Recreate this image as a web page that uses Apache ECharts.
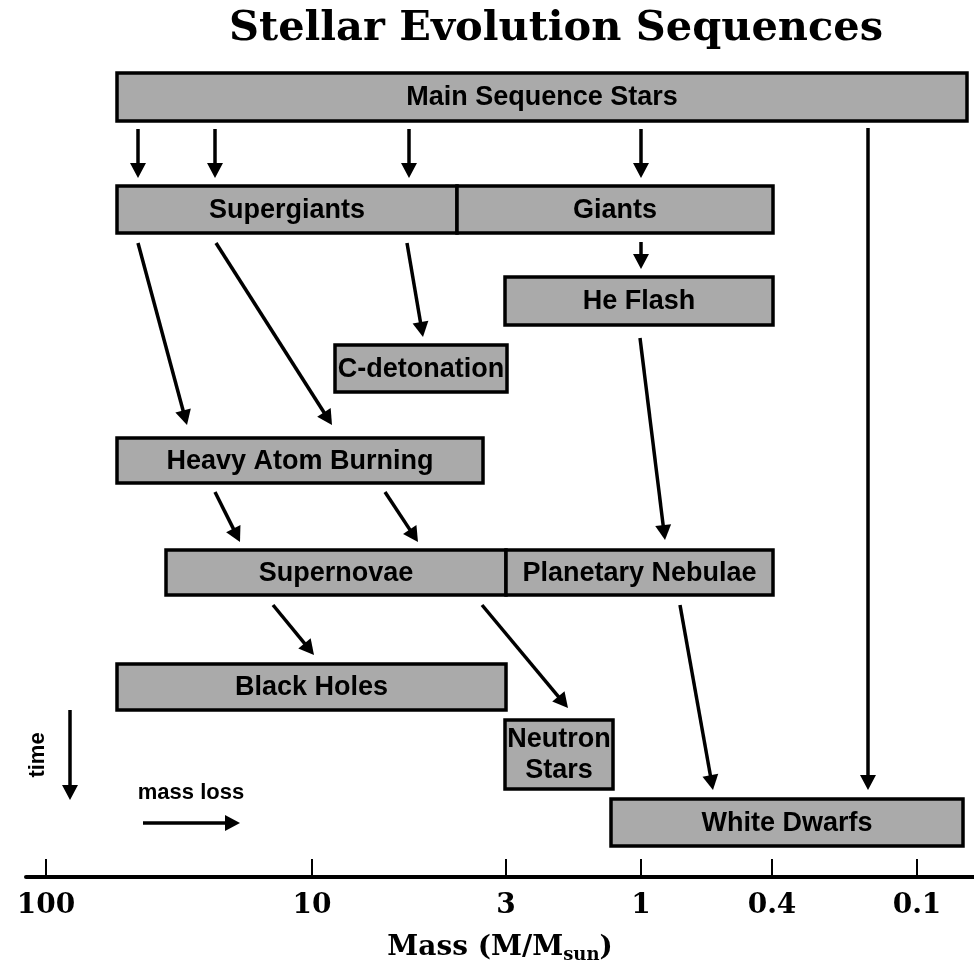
<!DOCTYPE html>
<html>
<head>
<meta charset="utf-8">
<script src="https://cdn.jsdelivr.net/npm/echarts@6/dist/echarts.min.js"></script>
<style>
  html, body { margin: 0; padding: 0; background: #fff; }
  #main { width: 974px; height: 967px; }
</style>
</head>
<body>
<div id="main"></div>
<script>
// x axis: schematic mass position (not a true log scale), y axis: time going down
var tickPos = [46, 312, 506, 641, 772, 917];
var tickLabels = ['100', '10', '3', '1', '0.4', '0.1'];

// evolution stages (boxes)
var boxNames = ['Main Sequence Stars', 'Supergiants', 'Giants', 'He Flash', 'C-detonation',
  'Heavy Atom Burning', 'Supernovae', 'Planetary Nebulae', 'Black Holes', 'Neutron\nStars', 'White Dwarfs'];
var boxLeft   = [117, 117, 457, 505, 335, 117, 166, 506, 117, 505, 611];
var boxRight  = [967, 457, 773, 773, 507, 483, 506, 773, 506, 613, 963];
var boxTop    = [73, 186, 186, 277, 345, 438, 550, 550, 664, 720, 799];
var boxBottom = [121, 233, 233, 325, 392, 483, 595, 595, 710, 789, 846];

// transitions (arrows): start and end points
var arrowFrom = [[138, 129], [215, 129], [409, 129], [641, 129], [868, 128], [641, 242],
  [138, 243], [216, 243], [407, 243], [640, 338], [215, 492], [385, 492],
  [273, 605], [482, 605], [680, 605], [70, 710], [143, 823]];
var arrowTo = [[138, 178], [215, 178], [409, 178], [641, 178], [868, 790], [641, 269],
  [187, 425], [332, 425], [423, 337], [665, 540], [240, 542], [418, 542],
  [314, 655], [568, 708], [713, 790], [70, 800], [240, 823]];

// legend notes
var noteText = ['time', 'mass loss'];
var notePos = [[38, 755], [191, 793]];
var noteRotate = [90, 0];

var myChart = echarts.init(document.getElementById('main'));

var boxData = boxNames.map(function (n, i) {
  return [boxLeft[i], boxRight[i], boxTop[i], boxBottom[i]];
});
var arrowData = arrowFrom.map(function (p, i) {
  return [p[0], p[1], arrowTo[i][0], arrowTo[i][1]];
});
var noteData = noteText.map(function (t, i) {
  return [notePos[i][0], notePos[i][1]];
});

var labelFont = 'Liberation Sans, Arial, sans-serif';

var option = {
  backgroundColor: '#ffffff',
  animation: false,
  title: {
    text: 'Stellar Evolution Sequences',
    left: 224,
    top: 3,
    textStyle: {
      fontFamily: 'DejaVu Serif',
      fontWeight: 'bold',
      fontSize: 41.5,
      color: '#000'
    }
  },
  grid: { left: 26, right: 0, top: 0, bottom: 90, outerBoundsMode: 'none' },
  xAxis: {
    type: 'value',
    min: 26,
    max: 974,
    axisLine: { show: true, onZero: false, lineStyle: { color: '#000', width: 4 } },
    axisTick: {
      show: true,
      inside: true,
      length: 18,
      customValues: tickPos,
      lineStyle: { color: '#000', width: 2 }
    },
    axisLabel: {
      customValues: tickPos,
      margin: 15,
      fontFamily: 'DejaVu Serif',
      fontWeight: 'bold',
      fontSize: 28,
      color: '#000',
      formatter: function (v) {
        var i = tickPos.indexOf(v);
        return i >= 0 ? tickLabels[i] : '';
      }
    },
    splitLine: { show: false },
    name: '{a|Mass (M/M}{s|sun}{a|)}',
    nameLocation: 'middle',
    nameGap: 55,
    nameTextStyle: {
      rich: {
        a: { fontFamily: 'DejaVu Serif', fontWeight: 'bold', fontSize: 28, color: '#000' },
        s: { fontFamily: 'DejaVu Serif', fontWeight: 'bold', fontSize: 18, color: '#000', padding: [14, 0, 0, 0] }
      }
    }
  },
  yAxis: {
    type: 'value',
    inverse: true,
    min: 0,
    max: 877,
    show: false
  },
  series: [
    {
      type: 'custom',
      name: 'stages',
      clip: false,
      data: boxData,
      renderItem: function (params, api) {
        var i = params.dataIndex;
        var p0 = api.coord([api.value(0), api.value(2)]);
        var p1 = api.coord([api.value(1), api.value(3)]);
        return {
          type: 'group',
          children: [
            {
              type: 'rect',
              shape: { x: p0[0], y: p0[1], width: p1[0] - p0[0], height: p1[1] - p0[1] },
              style: { fill: '#aaaaaa', stroke: '#000', lineWidth: 3.5 }
            },
            {
              type: 'text',
              x: (p0[0] + p1[0]) / 2,
              y: (p0[1] + p1[1]) / 2 + 1,
              style: {
                text: boxNames[i],
                fill: '#000',
                font: 'bold 27px ' + labelFont,
                lineHeight: 31,
                align: 'center',
                verticalAlign: 'middle'
              }
            }
          ]
        };
      }
    },
    {
      type: 'custom',
      name: 'transitions',
      clip: false,
      data: arrowData,
      renderItem: function (params, api) {
        var a = api.coord([api.value(0), api.value(1)]);
        var b = api.coord([api.value(2), api.value(3)]);
        var dx = b[0] - a[0], dy = b[1] - a[1];
        var len = Math.sqrt(dx * dx + dy * dy);
        var ux = dx / len, uy = dy / len;
        var head = 15, half = 8;
        var bx = b[0] - ux * head, by = b[1] - uy * head;
        return {
          type: 'group',
          children: [
            {
              type: 'line',
              shape: { x1: a[0], y1: a[1], x2: bx + ux * 2, y2: by + uy * 2 },
              style: { stroke: '#000', lineWidth: 3.5 }
            },
            {
              type: 'polygon',
              shape: {
                points: [
                  [b[0], b[1]],
                  [bx - uy * half, by + ux * half],
                  [bx + uy * half, by - ux * half]
                ]
              },
              style: { fill: '#000' }
            }
          ]
        };
      }
    },
    {
      type: 'custom',
      name: 'notes',
      clip: false,
      data: noteData,
      renderItem: function (params, api) {
        var i = params.dataIndex;
        var p = api.coord([api.value(0), api.value(1)]);
        return {
          type: 'text',
          x: p[0],
          y: p[1],
          rotation: noteRotate[i] * Math.PI / 180,
          style: {
            text: noteText[i],
            fill: '#000',
            font: 'bold 22px ' + labelFont,
            align: 'center',
            verticalAlign: 'middle'
          }
        };
      }
    }
  ]
};

myChart.setOption(option);
</script>
</body>
</html>
